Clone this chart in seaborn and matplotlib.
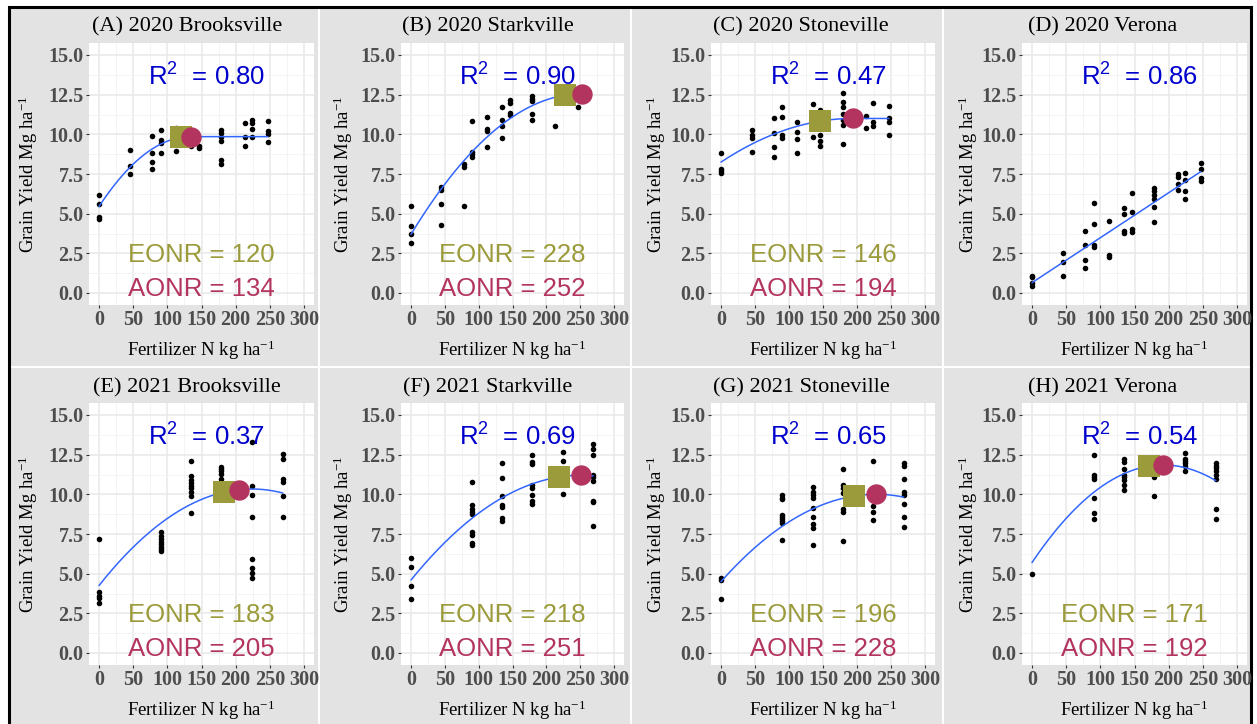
import matplotlib
matplotlib.use("Agg")
import numpy as np
import pandas as pd
import seaborn as sns
import matplotlib.pyplot as plt
from matplotlib.patches import Rectangle

# ---------------- data ----------------
titles = ["(A) 2020 Brooksville", "(B) 2020 Starkville", "(C) 2020 Stoneville", "(D) 2020 Verona",
          "(E) 2021 Brooksville", "(F) 2021 Starkville", "(G) 2021 Stoneville", "(H) 2021 Verona"]
r2_values = ["0.80", "0.90", "0.47", "0.86", "0.37", "0.69", "0.65", "0.54"]
eonr_values = [120, 228, 146, None, 183, 218, 196, 171]
aonr_values = [134, 252, 194, None, 205, 251, 228, 192]

A_N = [0, 0, 0, 0, 45, 45, 45, 78, 78, 78, 78, 90, 90, 90, 90, 112, 112, 135, 146, 146,
       179, 179, 179, 179, 179, 179, 213, 213, 213, 224, 224, 224, 224, 247, 247, 247, 247]
A_Y = [6.2, 5.6, 4.8, 4.65, 9.0, 8.0, 7.5, 9.9, 8.85, 8.25, 7.8, 10.3, 9.65, 9.45, 8.8, 10.4, 8.95, 9.25, 9.25, 9.15,
       10.3, 10.1, 9.85, 9.55, 8.4, 8.15, 10.7, 9.85, 9.25, 10.9, 10.7, 10.35, 9.85, 10.85, 10.2, 10.05, 9.5]

B_N = [0, 0, 0, 0, 45, 45, 45, 45, 78, 78, 78, 90, 90, 90, 90, 112, 112, 112, 112, 135, 135, 135, 135,
       146, 146, 146, 146, 179, 179, 179, 179, 179, 213, 247]
B_Y = [5.5, 4.2, 3.7, 3.15, 6.65, 6.5, 5.6, 4.3, 8.1, 7.95, 5.5, 10.85, 8.9, 8.75, 8.55, 11.1, 10.35, 10.2, 9.2,
       11.7, 10.9, 10.5, 9.8, 12.15, 11.95, 11.35, 11.25, 12.4, 12.25, 12.1, 11.3, 10.9, 10.55, 11.7]

C_N = [0, 0, 0, 0, 45, 45, 45, 45, 78, 78, 78, 78, 90, 90, 90, 90, 112, 112, 112, 112, 135, 135,
       146, 146, 146, 146, 146, 179, 179, 179, 179, 179, 179, 179, 213, 213, 224, 224, 224, 247, 247, 247, 247]
C_Y = [8.85, 7.8, 7.7, 7.55, 10.3, 9.95, 9.8, 8.9, 11.0, 10.1, 9.2, 8.55, 11.75, 11.1, 9.95, 9.8,
       10.8, 10.15, 9.7, 8.8, 11.9, 9.85, 11.55, 11.0, 9.95, 9.6, 9.25, 12.6, 12.05, 11.7, 11.3, 10.9, 10.6, 9.4,
       11.15, 10.4, 12.0, 10.75, 10.5, 11.8, 11.0, 10.8, 9.95]

D_N = [0, 0, 0, 0, 45, 45, 45, 78, 78, 78, 78, 90, 90, 90, 90, 112, 112, 112, 135, 135, 135, 135,
       146, 146, 146, 146, 179, 179, 179, 179, 179, 179, 213, 213, 213, 213, 224, 224, 224, 224, 247, 247, 247, 247]
D_Y = [1.1, 1.0, 0.6, 0.45, 2.5, 1.95, 1.1, 3.9, 3.05, 2.1, 1.6, 5.7, 4.35, 3.0, 2.9, 4.55, 2.4, 2.3,
       5.35, 5.0, 3.9, 3.8, 6.3, 5.1, 4.05, 3.85, 6.6, 6.4, 6.2, 5.95, 5.45, 4.45, 7.5, 7.3, 6.9, 6.5,
       7.55, 7.15, 6.4, 5.9, 8.2, 7.8, 7.25, 7.05]

E_N = [0] * 5 + [90] * 8 + [135] * 9 + [179] * 5 + [224] * 8 + [269] * 6
E_Y = [7.2, 3.85, 3.6, 3.45, 3.15, 7.6, 7.4, 7.2, 7.0, 6.85, 6.7, 6.55, 6.45,
       12.1, 11.15, 10.9, 10.7, 10.55, 10.4, 10.15, 9.9, 8.8, 11.75, 11.6, 11.45, 11.3, 10.95,
       13.3, 10.55, 9.95, 8.6, 5.95, 5.35, 5.05, 4.7, 12.55, 12.25, 10.95, 10.75, 9.9, 8.6]

F_N = [0] * 4 + [90] * 9 + [135] * 7 + [179] * 8 + [224] * 3 + [269] * 9
F_Y = [6.0, 5.4, 4.25, 3.4, 10.75, 9.3, 9.1, 8.9, 8.75, 7.65, 7.45, 6.95, 6.8,
       12.0, 11.05, 9.9, 9.35, 9.2, 8.5, 8.35, 12.45, 12.05, 11.9, 10.6, 10.4, 9.95, 9.6, 9.4,
       12.65, 12.1, 10.05, 13.2, 12.85, 12.5, 11.2, 11.1, 10.85, 9.6, 9.5, 8.0]

G_N = [0] * 3 + [90] * 9 + [135] * 9 + [179] * 7 + [224] * 4 + [269] * 8
G_Y = [4.7, 4.6, 3.4, 9.95, 9.8, 9.7, 8.7, 8.6, 8.45, 8.35, 8.2, 7.1,
       10.45, 10.15, 9.95, 9.8, 9.15, 8.6, 8.1, 7.85, 6.8, 11.6, 10.6, 10.4, 10.1, 9.05, 8.9, 7.05,
       12.1, 9.25, 8.9, 8.4, 11.95, 11.8, 10.95, 10.15, 9.95, 9.4, 8.6, 7.95]

H_N = [0] * 1 + [90] * 7 + [135] * 8 + [179] * 2 + [224] * 6 + [269] * 8
H_Y = [4.95, 12.5, 11.25, 11.1, 10.95, 9.75, 8.8, 8.45, 12.2, 12.05, 11.6, 11.25, 11.1, 10.9, 10.6, 10.3,
       11.1, 9.9, 12.6, 12.2, 12.1, 11.95, 11.8, 11.5, 11.95, 11.8, 11.65, 11.45, 11.2, 10.95, 9.1, 8.45]

point_n = [A_N, B_N, C_N, D_N, E_N, F_N, G_N, H_N]
point_y = [A_Y, B_Y, C_Y, D_Y, E_Y, F_Y, G_Y, H_Y]

# fitted response models (intercept, linear, quadratic, plateau join, end of N range)
fit_b0 = [5.45, 3.7, 8.25, 0.65, 4.25, 4.6, 4.5, 5.7]
fit_b1 = [0.0657, 0.07024, 0.02835, 0.02834, 0.0545, 0.05259, 0.04825, 0.06406]
fit_b2 = [-2.45e-4, -1.394e-4, -7.307e-5, 0.0, -1.22e-4, -1.0476e-4, -1.058e-4, -1.668e-4]
fit_join = [134, None, 194, None, None, None, None, None]
fit_end = [247, 247, 247, 247, 269, 269, 269, 269]

# ---------------- style ----------------
sns.set_theme(style="white")
plt.rcParams["font.family"] = ["Liberation Serif", "DejaVu Serif"]

W, H = 1257, 724
fig = plt.figure(figsize=(W / 100, H / 100), dpi=100, facecolor="white")

OLIVE = "#9b9b3b"
WINE = "#b3345f"
BLUE = "#0000cd"
LINE = "#3366ff"
TICKC = "#4d4d4d"

col_edges = [9, 319, 631, 943, 1251]
row_edges = [7, 367, 740]
for i in range(4):
    for j in range(2):
        x0, x1 = col_edges[i] + 1, col_edges[i + 1] - 1
        y0, y1 = row_edges[j] + 1, row_edges[j + 1] - 1
        fig.patches.append(Rectangle((x0 / W, 1 - y1 / H), (x1 - x0) / W, (y1 - y0) / H,
                                     transform=fig.transFigure, facecolor="#e3e3e3",
                                     edgecolor="none", zorder=-5))
fig.patches.append(Rectangle((8.5 / W, 1 - 740 / H), (1251 - 8.5) / W, (740 - 6.5) / H,
                             transform=fig.transFigure, facecolor="none", edgecolor="black",
                             linewidth=2.2, zorder=-4))

px_zero = [99, 411, 721, 1032]
px_300 = [304, 614, 925, 1237]
row_y15 = [55, 415]
row_y0 = [293, 653]
title_x = [187, 488, 801, 1103]
title_base = [31, 392]
xlab_base = [356, 716]
ylab_x = [28, 343, 656, 968]


def curve(k, x):
    y = fit_b0[k] + fit_b1[k] * x + fit_b2[k] * x ** 2
    if fit_join[k] is not None:
        j = fit_join[k]
        yj = fit_b0[k] + fit_b1[k] * j + fit_b2[k] * j ** 2
        y = np.where(x > j, yj, y)
    return y


for k in range(8):
    c, r = k % 4, k // 4
    sx = (px_300[c] - px_zero[c]) / 300.0
    sy = (row_y0[r] - row_y15[r]) / 15.0
    left = px_zero[c] - 15 * sx
    right = px_zero[c] + 315 * sx
    top = row_y15[r] - 0.75 * sy
    bottom = row_y0[r] + 0.75 * sy
    ax = fig.add_axes([left / W, 1 - bottom / H, (right - left) / W, (bottom - top) / H])
    ax.set_zorder(2)
    ax.set_facecolor("white")
    ax.set_xlim(-15, 315)
    ax.set_ylim(-0.75, 15.75)
    ax.set_xticks(np.arange(0, 301, 50))
    ax.set_yticks(np.arange(0, 15.01, 2.5))
    ax.set_xticks(np.arange(25, 301, 50), minor=True)
    ax.set_yticks(np.arange(1.25, 15.01, 2.5), minor=True)
    ax.set_xticklabels([str(v) for v in range(0, 301, 50)], fontweight="bold")
    ax.set_yticklabels(["%.1f" % v for v in np.arange(0, 15.01, 2.5)], fontweight="bold")
    ax.grid(which="major", color="#e8e8e8", linewidth=1.1)
    ax.grid(which="minor", color="#f2f2f2", linewidth=0.6)
    ax.set_axisbelow(True)
    for s in ax.spines.values():
        s.set_visible(False)
    ax.tick_params(which="major", length=2.5, width=0.8, color="#333333", labelsize=14.5,
                   labelcolor=TICKC, pad=1.2, bottom=True, left=True)
    ax.tick_params(which="minor", length=0)

    df = pd.DataFrame({"N": point_n[k], "Y": point_y[k]})
    sns.scatterplot(data=df, x="N", y="Y", ax=ax, color="black", s=16, linewidth=0, zorder=3)

    xs = np.linspace(0, fit_end[k], 300)
    dfc = pd.DataFrame({"N": xs, "Y": curve(k, xs)})
    sns.lineplot(data=dfc, x="N", y="Y", ax=ax, color=LINE, linewidth=1.1, zorder=4)

    if eonr_values[k] is not None:
        e, a = eonr_values[k], aonr_values[k]
        dfm = pd.DataFrame({"N": [e], "Y": curve(k, np.array([e]))})
        sns.scatterplot(data=dfm, x="N", y="Y", ax=ax, color=OLIVE, marker="s", s=235,
                        linewidth=0, zorder=5)
        dfa = pd.DataFrame({"N": [a], "Y": curve(k, np.array([a]))})
        sns.scatterplot(data=dfa, x="N", y="Y", ax=ax, color=WINE, marker="o", s=215,
                        linewidth=0, zorder=6)
        ax.text(150, 1.95, "EONR = %d" % e, ha="center", va="baseline", color=OLIVE,
                family="Liberation Sans", fontsize=18.5, zorder=7)
        ax.text(150, -0.2, "AONR = %d" % a, ha="center", va="baseline", color=WINE,
                family="Liberation Sans", fontsize=18.5, zorder=7)
    ax.text(158, 13.05, r"R$\mathregular{^2}$  = " + r2_values[k], ha="center", va="baseline",
            color=BLUE, family="Liberation Sans", fontsize=18.5, zorder=7)
    ax.set_xlabel("")
    ax.set_ylabel("")

    fig.text(title_x[c] / W, 1 - title_base[r] / H, titles[k], ha="center", va="baseline",
             fontsize=16, color="black")
    fig.text(((left + right) / 2) / W, 1 - xlab_base[r] / H, r"Fertilizer N kg ha$\mathregular{^{-1}}$",
             ha="center", va="baseline", fontsize=13.5, color="black")
    fig.text(ylab_x[c] / W, 1 - ((top + bottom) / 2) / H, r"Grain Yield Mg ha$\mathregular{^{-1}}$",
             ha="center", va="center", rotation=90, fontsize=13.5, color="black")

fig.savefig("out.png", dpi=100, facecolor="white")
